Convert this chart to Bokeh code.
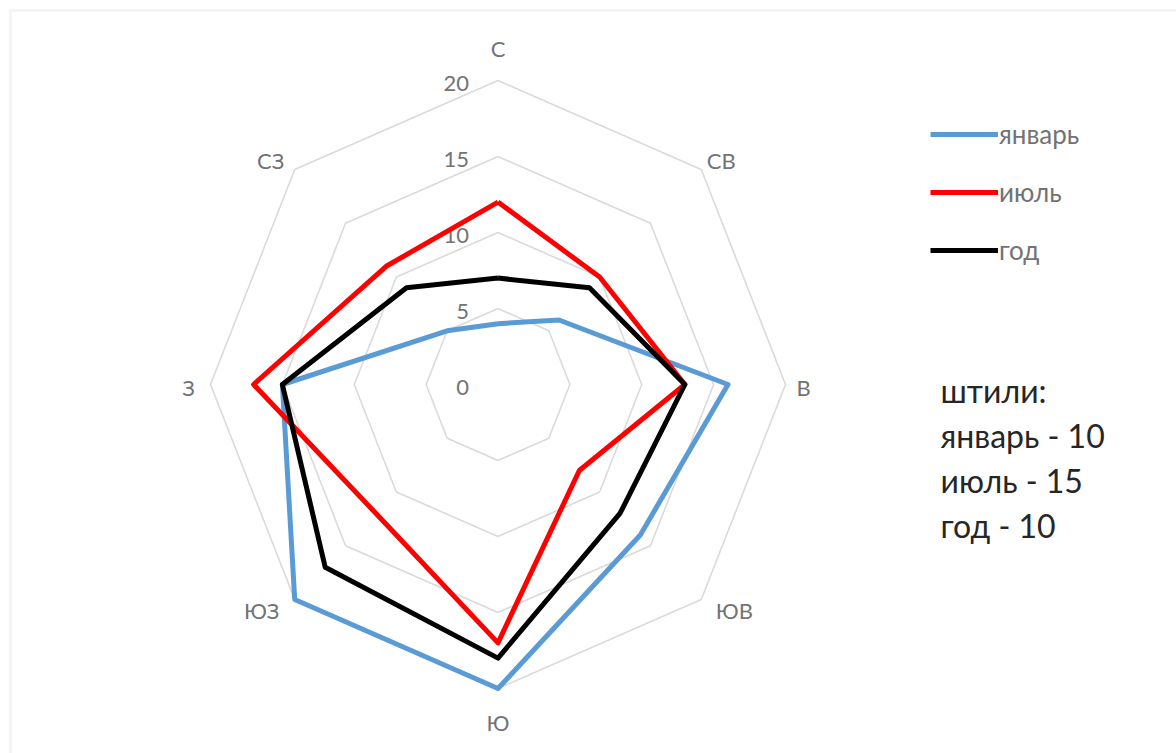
import math
from bokeh.plotting import figure
from bokeh.models import Range1d, Legend, LegendItem, BoxAnnotation, ColumnDataSource
from bokeh.core.properties import value
from bokeh.embed import file_html
from bokeh.resources import INLINE

# Wind rose: frequency of winds by direction, %
directions = ["С", "СВ", "В", "ЮВ", "Ю", "ЮЗ", "З", "СЗ"]
january = [4, 6, 16, 14, 20, 20, 15, 5]
july = [12, 10, 13, 8, 17, 12, 17, 11]
year = [7, 9, 13, 12, 18, 17, 15, 9]
series_names = ["январь", "июль", "год"]
ring_values = [0, 5, 10, 15, 20]
calm_lines = ["штили:", "январь - 10", "июль - 15", "год - 10"]

W, H = 1176, 753
CX, CY = 497.5, 384.0       # centre of the rose on the page
SX, SY = 14.375, 15.2       # pixels per percent, horizontally / vertically

x_start = -CX / SX
x_end = (W - CX) / SX
y_end = CY / SY
y_start = -(H - CY) / SY


def px_x(px):
    return x_start + px / SX


def px_y(py):
    return y_end - py / SY


angles = [i * 2 * math.pi / len(directions) for i in range(len(directions))]


def polar(vals):
    xs = [v * math.sin(a) for v, a in zip(vals, angles)]
    ys = [v * math.cos(a) for v, a in zip(vals, angles)]
    return xs + xs[:1], ys + ys[:1]


p = figure(width=W, height=H, output_backend="svg", toolbar_location=None,
           x_range=Range1d(x_start, x_end), y_range=Range1d(y_start, y_end),
           min_border=0)
p.axis.visible = False
p.grid.visible = False
p.outline_line_color = None
p.background_fill_color = "white"
p.border_fill_color = "white"

# chart-area frame (only top and left edges fall inside the page)
p.add_layout(BoxAnnotation(left=px_x(10), right=px_x(W + 40), top=px_y(10), bottom=px_y(H + 40),
                           fill_alpha=0, line_color="#dcdcdc", line_width=3))

# grid rings
for r in ring_values[1:]:
    gx, gy = polar([r] * len(directions))
    p.line(gx, gy, line_color="#dadada", line_width=1.6)

# ring value labels
p.text(x=[0] * len(ring_values), y=ring_values, text=[str(v) for v in ring_values],
       text_align="right", text_baseline="middle", x_offset=-29, y_offset=3,
       text_font=value("Lato"), text_font_size="22px", text_color="#737373")

# direction labels
lab_dx = [0, 20, 18, 33, 0, -33, -22, -24]
lab_dy = [-32, -9, 3, 11, 34, 11, 3, -9]
lx = [20 * math.sin(a) for a in angles]
ly = [20 * math.cos(a) for a in angles]
src = ColumnDataSource(dict(x=lx, y=ly, t=directions, dx=lab_dx, dy=lab_dy))
p.text(x="x", y="y", text="t", x_offset="dx", y_offset="dy", source=src,
       text_align="center", text_baseline="middle",
       text_font=value("Lato"), text_font_size="22px", text_color="#737373")

colors = ["#5b9bd5", "#ff0000", "#000000"]
renderers = []
for vals, col in zip([january, july, year], colors):
    sx_, sy_ = polar(vals)
    r = p.line(sx_, sy_, line_color=col, line_width=5, line_join="round")
    renderers.append(r)

legend = Legend(items=[LegendItem(label=n, renderers=[r]) for n, r in zip(series_names, renderers)],
                location=(930, H - 266), orientation="vertical",
                glyph_width=68, glyph_height=20, label_standoff=1, spacing=26,
                padding=0, margin=0, border_line_alpha=0, background_fill_alpha=0,
                label_text_font="Lato", label_text_font_size="26px",
                label_text_color="#737373")
p.add_layout(legend)

# calm-days note
note_y = [390, 435, 480, 525]
p.text(x=[px_x(940)] * len(calm_lines), y=[px_y(v) for v in note_y], text=calm_lines,
       text_align="left", text_baseline="middle",
       text_font=value("Lato"), text_font_size="32px", text_color="#262626")

open("out.html", "w").write(file_html(p, INLINE))
